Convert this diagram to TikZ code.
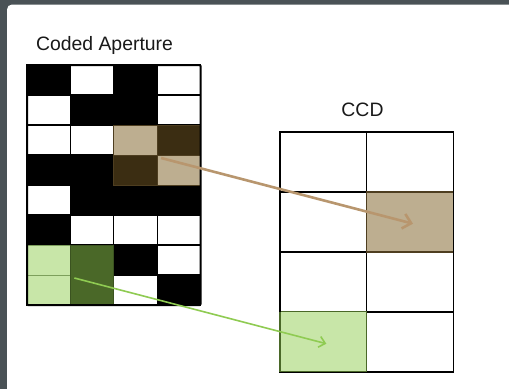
\documentclass[tikz,border=0pt]{standalone}
\usepackage{fontspec}
\setmainfont{Liberation Sans}
\usetikzlibrary{arrows.meta}
\definecolor{framegrey}{HTML}{4A5256}
\definecolor{tanfill}{HTML}{BDAE90}
\definecolor{browndark}{HTML}{3B2D12}
\definecolor{brownline}{HTML}{4E3E20}
\definecolor{greenlight}{HTML}{C8E6A8}
\definecolor{greendark}{HTML}{4A6828}
\definecolor{greenline}{HTML}{7D9F5C}
\definecolor{arrowbrown}{HTML}{B8966E}
\definecolor{arrowgreen}{HTML}{8FCB52}
\colorlet{b}{black}
\colorlet{w}{white}
\begin{document}
\begin{tikzpicture}[x=1pt,y=-1pt,
  apcell/.style={draw=black, line width=1.2pt, minimum width=43.375pt,
    minimum height=30pt, inner sep=0pt, outer sep=0pt, anchor=north west},
  ccdcell/.style={draw=black, line width=1.6pt, minimum width=86.67pt,
    minimum height=60pt, inner sep=0pt, outer sep=0pt, anchor=north west},
  title/.style={font=\fontsize{19.4}{23}\selectfont, text=black!90, anchor=base, inner sep=0pt},
  brownarrow/.style={draw=arrowbrown, line width=2.6pt,
    -{Straight Barb[length=8pt,width=15pt,line width=2.6pt]}},
  greenarrow/.style={draw=arrowgreen, line width=1.6pt,
    -{Straight Barb[length=6pt,width=11pt,line width=1.6pt]}}]

% frame and white panel
\useasboundingbox (0,0) rectangle (509,389);
\begin{scope}
  \clip (0,0) rectangle (509,389);
  \fill[framegrey] (0,0) rectangle (509,389);
  \fill[white, rounded corners=5pt] (7,4.5) rectangle (540,420);
\end{scope}

% titles
\node[title] (aptitle) at (104.5,50) {Coded Aperture};
\node[title] (ccdtitle) at (362.5,116) {CCD};

% coded aperture mask: 8 rows x 4 columns (b = opaque, w = open)
\foreach \r/\row in {0/{b,w,b,w}, 1/{w,b,b,w}, 2/{w,w,b,b}, 3/{b,b,b,b},
                     4/{w,b,b,b}, 5/{b,w,w,w}, 6/{b,b,b,w}, 7/{b,b,w,b}} {
  \foreach \v [count=\c from 0] in \row {
    \node[apcell, fill=\v] (a-\r-\c) at (27+\c*43.375, 65+\r*30) {};
  }
}

% highlighted brown block
\node[apcell, draw=brownline, line width=0.9pt, fill=tanfill]   (b-2-2) at (a-2-2.north west) {};
\node[apcell, draw=brownline, line width=0.9pt, fill=browndark] (b-2-3) at (a-2-3.north west) {};
\node[apcell, draw=brownline, line width=0.9pt, fill=browndark] (b-3-2) at (a-3-2.north west) {};
\node[apcell, draw=brownline, line width=0.9pt, fill=tanfill]   (b-3-3) at (a-3-3.north west) {};

% highlighted green block
\node[apcell, draw=greenline, line width=1pt, fill=greenlight] (g-6-0) at (a-6-0.north west) {};
\node[apcell, draw=greenline, line width=1pt, fill=greenlight] (g-7-0) at (a-7-0.north west) {};
\node[apcell, draw=greendark!80!black, line width=0.8pt, fill=greendark, minimum height=60pt] (g-6-1) at (a-6-1.north west) {};

% outer border of the mask
\draw[black, line width=2pt, rounded corners=1pt] (a-0-0.north west) rectangle (a-7-3.south east);

% CCD: 4 rows x 2 columns
\foreach \r in {0,...,3} {
  \foreach \c in {0,1} {
    \node[ccdcell, fill=white] (c-\r-\c) at (280+\c*86.67, 131.7+\r*60) {};
  }
}
\node[ccdcell, draw=brownline, fill=tanfill] (ct) at (c-1-1.north west) {};
\node[ccdcell, draw=greendark, line width=1.2pt, fill=greenlight] (cg) at (c-3-0.north west) {};
\draw[black, line width=1.6pt] (c-0-0.north west) -- (c-0-1.north east) -- (c-3-1.south east);
\draw[black, line width=1.6pt] (c-0-0.north west) -- (c-3-0.north west);

% rays from mask elements to detector pixels
\draw[brownarrow] ([shift={(4,3)}]b-3-3.north west) -- ([shift={(3,2)}]ct.center);
\draw[greenarrow] ([shift={(4,3)}]g-7-0.north east) -- ([shift={(3,2)}]cg.center);
\end{tikzpicture}
\end{document}
